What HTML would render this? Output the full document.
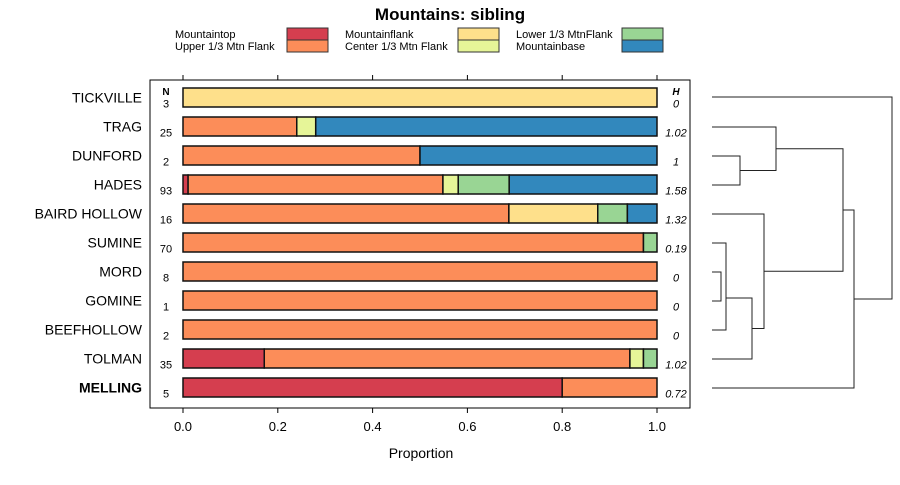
<!DOCTYPE html>
<html><head><meta charset="utf-8"><style>
body{margin:0;background:#fff}
svg{font-family:"Liberation Sans",sans-serif}
</style></head><body>
<svg id="chart" width="900" height="480">
<text x="450" y="20" text-anchor="middle" font-weight="bold" font-size="17">Mountains: sibling</text>
<g id="legend"></g>
<rect x="150" y="80" width="540" height="328" fill="none" stroke="#000"/>
<g id="axes"></g>
<g id="bars"></g>
<g id="tree"></g>
<text x="421" y="458" text-anchor="middle" font-size="14">Proportion</text>
<text x="166" y="95" text-anchor="middle" font-size="10" font-weight="bold">N</text>
<text x="676" y="95" text-anchor="middle" font-size="10" font-weight="bold" font-style="italic">H</text>
</svg>
<script>
const categories=["TICKVILLE","TRAG","DUNFORD","HADES","BAIRD HOLLOW","SUMINE","MORD","GOMINE","BEEFHOLLOW","TOLMAN","MELLING"];
const seriesNames=["Mountaintop","Upper 1/3 Mtn Flank","Mountainflank","Center 1/3 Mtn Flank","Lower 1/3 MtnFlank","Mountainbase"];
const colors=["#d53e4f","#fc8d59","#fee08b","#e6f598","#99d594","#3288bd"];
const mountaintop=[0,0,0,1/93,0,0,0,0,0,6/35,0.8];
const upperFlank=[0,6/25,0.5,50/93,11/16,68/70,1,1,1,27/35,0.2];
const mountainflank=[1,0,0,0,3/16,0,0,0,0,0,0];
const centerFlank=[0,1/25,0,3/93,0,0,0,0,0,1/35,0];
const lowerFlank=[0,0,0,10/93,1/16,2/70,0,0,0,1/35,0];
const mountainbase=[0,18/25,0.5,29/93,1/16,0,0,0,0,0,0];
const nValues=["3","25","2","93","16","70","8","1","2","35","5"];
const hValues=["0","1.02","1","1.58","1.32","0.19","0","0","0","1.02","0.72"];
const ticks=[0,0.2,0.4,0.6,0.8,1];
const tickLabels=["0.0","0.2","0.4","0.6","0.8","1.0"];
const series=[mountaintop,upperFlank,mountainflank,centerFlank,lowerFlank,mountainbase];
const NS="http://www.w3.org/2000/svg";
const xs=v=>183+v*474;
const ys=i=>97.5+i*29;
function mk(tag,attrs,parent,text){const e=document.createElementNS(NS,tag);for(const k in attrs)e.setAttribute(k,attrs[k]);if(text!==undefined)e.textContent=text;parent.appendChild(e);return e;}
const axes=document.getElementById('axes'),bars=document.getElementById('bars'),leg=document.getElementById('legend'),tree=document.getElementById('tree');
ticks.forEach((t,i)=>{
  let l=mk('line',{x1:xs(t),x2:xs(t),y1:75,y2:80,stroke:'#000'},axes);
  
  
  l=mk('line',{x1:xs(t),x2:xs(t),y1:408,y2:413,stroke:'#000'},axes);
  
  
  const tx=mk('text',{x:xs(t),y:431,'text-anchor':'middle','font-size':13},axes,tickLabels[i]);
  
  
});
categories.forEach((c,i)=>{
  const y=ys(i);
  const lab=mk('text',{x:142,y:y+5,'text-anchor':'end','font-size':14,'font-weight':i==10?'bold':'normal'},bars,c);
  
  
  let cum=0;
  series.forEach((s,k)=>{
    const v=s[i]; if(v<=0)return;
    const r=mk('rect',{x:xs(cum),y:y-9.5,width:v*474,height:19,fill:colors[k],stroke:'#111','stroke-width':1.5},bars);
    
    
    cum+=v;
  });
  const n=mk('text',{x:166,y:y+10,'text-anchor':'middle','font-size':11},bars,nValues[i]);
  
  
  const h=mk('text',{x:676,y:y+10,'text-anchor':'middle','font-size':11,'font-style':'italic'},bars,hValues[i]);
  
  
});
const legPos=[[175,287,34],[175,287,46],[345,458,34],[345,458,46],[516,622,34],[516,622,46]];
seriesNames.forEach((nm,k)=>{
  const p=legPos[k];
  const t=mk('text',{x:p[0],y:p[2]+4,'font-size':11},leg,nm);
  
  
  const r=mk('rect',{x:p[1],y:p[2]-6,width:41,height:12,fill:colors[k],stroke:'#333'},leg);
  
  
});
// dendrogram: [leftY(top), rightY(bottom), x, leftChildX, rightChildX]
const merges=[[156,185,740,712,712],[127,170.5,776,712,740],[272,301,721,712,712],[243,330,726,712,712],[298,359,752,726,712],[214,328.5,764,712,752],[148.75,271.25,843,776,764],[210,388,854,843,712],[97,299,892,712,854]];
merges.forEach(m=>{
  const p=mk('path',{d:`M${m[3]},${m[0]}H${m[2]}V${m[1]}H${m[4]}`,fill:'none',stroke:'#222','stroke-width':1},tree);
  
  
});
</script>
</body></html>
